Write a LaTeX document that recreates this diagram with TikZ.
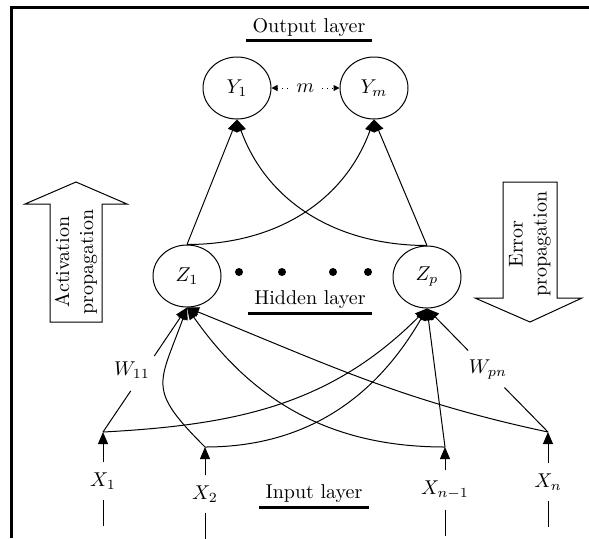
\documentclass[tikz,border=0pt]{standalone}
\usepackage{tikz}
\usetikzlibrary{arrows.meta, positioning, shapes.geometric, calc}

\begin{document}
\begin{tikzpicture}[
			x=0.5pt, y=-0.5pt,
			neuron/.style={ellipse, draw, line width=0.5pt, minimum width=34pt, minimum height=31pt, inner sep=0pt},
			layer/.style={inner xsep=3pt, inner ysep=2pt},
			underbar/.style={line width=1.8pt},
			inlabel/.style={inner xsep=1pt, inner ysep=5pt},
			link/.style={line width=0.5pt},
			arrow/.style={link, -{Triangle[length=6pt, width=5pt]}},
			bigarrow/.style={draw, line width=0.5pt, fill=white}
		]
		\useasboundingbox (0,0) rectangle (589,538);
		% frame
		\draw[line width=1.5pt] (11,538) -- (11,7) -- (589,7);
		
		% Output layer
		\node[layer] (out-label) at (309,27) {Output layer};
		\draw[underbar] (out-label.south west) -- (out-label.south east);
		\node[neuron] (y1) at (237,88) {$Y_1$};
		\node[neuron] (ym) at (374,88) {$Y_m$};
		\draw[link, dotted, {Triangle[length=3pt, width=3pt]}-{Triangle[length=3pt, width=3pt]}] (y1) -- node[fill=white, inner sep=3pt] (m) {$m$} (ym);
		
		% Hidden layer
		\node[neuron] (z1) at (187,276) {$Z_1$};
		\node[neuron] (zp) at (427,277) {$Z_p$};
		\foreach \x in {239,282,333,368}
			\fill (\x,272) circle (2pt);
		\node[layer] (hid-label) at (310,300) {Hidden layer};
		\draw[underbar] (hid-label.south west) -- (hid-label.south east);
		
		\draw[arrow] (z1.north) -- (y1.south);
		\draw[arrow] (z1.north) to[out=0, in=-110] (ym.south);
		\draw[arrow] (zp.north) to[out=180, in=-70] (y1.south);
		\draw[arrow] (zp.north) -- (ym.south);
		
		% Input layer
		\node[layer] (in-label) at (314,494) {Input layer};
		\draw[underbar] (in-label.south west) -- (in-label.south east);
		\node[inlabel] (x1) at (103,481) {$X_1$};
		\node[inlabel] (x2) at (205,494) {$X_2$};
		\node[inlabel] (xn1) at (445,490) {$X_{n-1}$};
		\node[inlabel] (xn) at (548,482) {$X_n$};
		\coordinate (x1t) at (103,432);
		\coordinate (x2t) at (205,447);
		\coordinate (xn1t) at (445,447);
		\coordinate (xnt) at (548,432);
		\foreach \i in {x1,x2,xn1,xn} {
			\draw[arrow] (\i.north) -- (\i t);
			\draw[link] (\i.south) -- ++(0,26);
		}
		
		% weights
		\node (w11) at (132,370) {$W_{11}$};
		\node (wpn) at (488,370) {$W_{pn}$};
		\draw[link] (x1t) -- ($(x1t)!0.33!(z1.south)$);
		\draw[arrow] ($(x1t)!0.61!(z1.south)$) -- (z1.south);
		\draw[link] (xnt) -- ($(xnt)!0.36!(zp.south)$);
		\draw[arrow] ($(xnt)!0.66!(zp.south)$) -- (zp.south);
		
		\draw[arrow] (x1t) to[out=3, in=-135] (zp.south);
		\draw[arrow] (x2t) to[out=135, in=-110, looseness=1.5] (z1.south);
		\draw[arrow] (x2t) to[out=0, in=-120] (zp.south);
		\draw[arrow] (xn1t) to[out=180, in=-55] (z1.south);
		\draw[arrow] (xn1t) -- (zp.south);
		\draw[arrow] (xnt) to[out=168, in=-22] (z1.south);
		
		% propagation arrows
		\draw[bigarrow] (50,322) -- (50,204) -- (25,204) -- (76,182) -- (127,204) -- (102,204) -- (102,322) -- cycle;
		\node[rotate=90, align=center] (act) at (76,262) {Activation\\propagation};
		\draw[bigarrow] (503,182) -- (557,182) -- (557,298) -- (582,298) -- (530,322) -- (475,298) -- (503,298) -- cycle;
		\node[rotate=90, align=center] (err) at (530,244) {Error\\propagation};
		\end{tikzpicture}
\end{document}
